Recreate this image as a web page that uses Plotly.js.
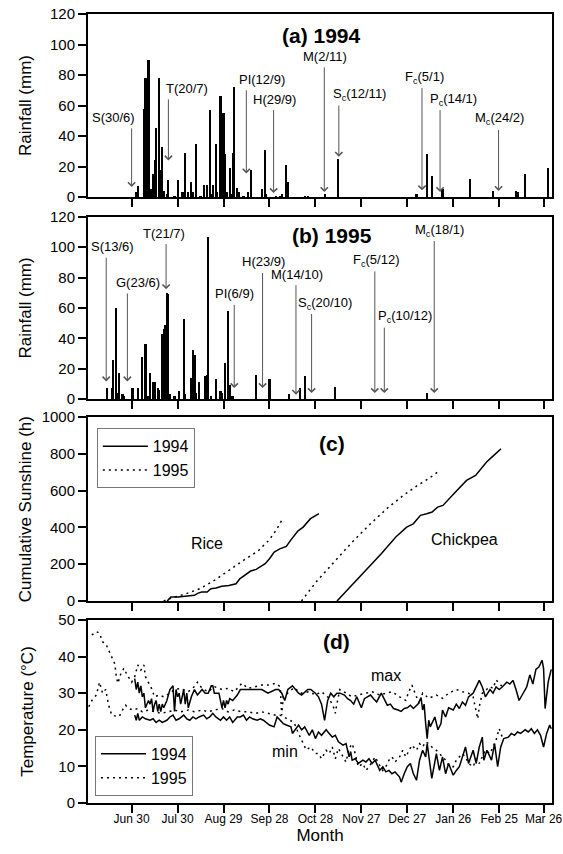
<!DOCTYPE html>
<html><head><meta charset="utf-8">
<script src="https://cdn.plot.ly/plotly-3.0.1.min.js"></script>
<style>html,body{margin:0;padding:0;background:#fff}#chart{width:563px;height:854px}</style>
</head><body><div id="chart"></div>
<script>
// x = days after 30 June
const tickDays = [0, 30, 60, 90, 120, 150, 180, 210, 240, 269];
const tickLabels = ['Jun 30', 'Jul 30', 'Aug 29', 'Sep 28', 'Oct 28', 'Nov 27', 'Dec 27', 'Jan 26', 'Feb 25', 'Mar 26'];

// (a) rainfall 1994
const rain94Day = [3,4,8,9,10,11,13,14,15,16,18,19,20,21,23,24,28,30,33,34,35,37,39,40,42,45,47,49,51,52,53,55,56,58,59,60,61,62,64,65,66,67,69,70,73,76,78,85,87,88,94,97,98,101,102,113,115,126,135,186,193,196,203,221,236,251,252,257,272];
const rain94Mm  = [3,7,58,78,45,90,5,15,24,45,78,18,33,4,2,11,1,11,3,3,29,3,10,3,35,1,8,8,57,2,8,35,3,66,3,55,28,3,19,2,29,72,6,3,1,3,18,5,31,2,1,1,2,21,10,1,1,2,25,2,28,14,5,12,4,4,3,15,19];

// (b) rainfall 1995
const rain95Day = [-16,-13,-12,-10,-9,-8,-6,-5,0,1,4,7,9,11,12,14,15,17,18,20,21,22,23,24,25,28,31,34,35,39,40,41,42,44,48,49,50,52,55,58,59,61,63,64,65,66,81,90,103,110,113,133,193];
const rain95Mm  = [7,7,26,60,4,17,3,2,7,7,7,28,36,2,17,11,11,7,6,43,46,49,70,69,3,2,5,53,3,14,32,29,4,11,15,16,107,2,13,5,4,24,58,9,2,2,16,13,3,7,15,8,4];

// event labels (a)
const ev94Text = ['S(30/6)','T(20/7)','PI(12/9)','H(29/9)','M(2/11)','S<sub>c</sub>(12/11)','F<sub>c</sub>(5/1)','P<sub>c</sub>(14/1)','M<sub>c</sub>(24/2)'];
const ev94TextDay = [-11.8, 36.3, 85.3, 93.1, 126.3, 148.8, 191.5, 210.4, 240];
const ev94TextVal = [52.4, 70.9, 77, 63.9, 92, 67, 78.6, 63.9, 51.3];
const ev94ArrowDay = [0, 24, 74.9, 92.7, 125.8, 135.3, 189.6, 201.4, 239.6];
const ev94Tail = [46, 65, 71, 58, 86, 61, 72.5, 58, 45];
const ev94Tip = [6.6, 24, 15.4, 2.6, 3.3, 26.4, 4.4, 3.3, 4];

// event labels (b)
const ev95Text = ['S(13/6)','G(23/6)','T(21/7)','PI(6/9)','H(23/9)','M(14/10)','S<sub>c</sub>(20/10)','F<sub>c</sub>(5/12)','P<sub>c</sub>(10/12)','M<sub>c</sub>(18/1)'];
const ev95TextDay = [-12.3, 4.3, 21.3, 67, 86, 108, 126.3, 159.5, 178.4, 201];
const ev95TextVal = [100.3, 76.7, 109, 69.2, 90.4, 82.3, 63, 91.5, 54.3, 111];
const ev95ArrowDay = [-16.6, -2.8, 22.5, 67, 85.5, 107.3, 117.5, 158.8, 165, 197.6];
const ev95Tail = [94, 70.5, 103, 63, 84, 76, 57, 85, 48, 105];
const ev95Tip = [11.6, 11.6, 72.3, 7.2, 7.2, 2.8, 3.9, 3.9, 3.9, 3.9];

// (c) cumulative sunshine
const rice94Day = [23.2,25.6,30.3,35,41,43.4,45.7,49.3,51.7,55.2,58.8,63.5,68.2,70.6,75.4,77.7,81.3,84.8,87.2,90,93.1,96.7,101,103.8,108.5,112,116.8,122.3];
const rice94Hrs = [0,22,22,27,31,43,49,49,67,71,80,85,94,121,149,163,172,190,203,230,266,284,297,330,380,402,448,475];
const rice95Day = [20.9,25.6,35,44.5,54,63.5,73,82.5,89.6,94.3,99];
const rice95Hrs = [0,15,38,67,112,167,221,272,330,384,453];
const chick94Day = [134.1,148.8,163,172.5,179.6,183.9,188.6,192.7,196.2,199.8,203.3,210.4,218.7,224.6,231.8,236.5,241.2];
const chick94Hrs = [0,130,257,348,402,420,466,475,484,511,520,583,656,683,756,792,828];
const chick95Day = [110.9,120.4,132.2,144.1,155.9,167.8,177.3,186.7,193.8,199.8];
const chick95Hrs = [0,103,212,321,420,511,574,629,665,701];

// (d) temperature
const tMax94Day = [2,3,4,5,6,7,8,9,11,12,13,14,15,16,17,18,19,20,21,23,25,27,28,29,30,31,32,34,35,36,37,39,41,43,46,48,50,52,53,54,57,59,60,61,62,63,64,66,69,71,73,76,81,85,89,94,96,98,100,102,105,107,109,111,115,117,120,122,124,126,128,130,132,134,136,139,141,143,145,147,150,152,154,156,158,160,163,165,167,169,171,174,176,178,180,182,184,187,189,190,191,192,193,194,195,198,200,202,203,205,207,210,212,214,216,218,220,223,225,227,229,231,234,236,238,240,242,245,247,249,251,253,255,258,260,262,264,266,268,269,270,272,274];
const tMax94 = [34,31,33,30,32,29,30,26,28,27,28.5,25,27,28,25,27,25,27,26,28,31,32,25,31,29,30,27,31,27,30,26,29,31,29.5,31,30,30,32,32,30,30,26,28,26,28,27,28.5,28,29.5,31,31,31,31,31,30,31,31,30,28,31,32,31,30,29.5,31,31,30,29,27,22.6,28,30,29,30,30,29.5,28.5,28,27,29,26,28.5,29,29.5,28.5,27.6,30,28.5,26.7,27,25.8,25.4,25,25.8,26,26.7,25.8,27,28.8,25.4,27,21.7,17.6,22.6,20.8,23.5,20,21.7,25.4,23.5,26,25.4,27,25.8,27.6,26.7,29,30,32,33.5,31.7,29,31,30,31.7,31,31.7,33,32.5,33.5,31,28,29.5,31.7,35,32.5,36.5,37.2,39,36.8,25.8,33,36.5];
const tMin94Day = [2,3,4,5,7,9,12,14,16,18,20,23,25,27,29,31,34,36,38,40,42,44,47,49,51,53,55,58,60,62,64,66,69,71,73,75,77,79,82,84,86,88,90,93,95,97,99,101,104,105,107,109,111,113,116,118,120,122,124,127,129,131,133,135,138,140,142,143,144,146,148,151,153,155,157,159,162,164,166,168,170,172,175,176,178,180,182,184,186,188,190,192,193,195,196,199,201,203,205,207,210,212,214,216,218,220,223,225,227,229,230,232,235,237,239,241,243,246,248,250,252,254,257,259,261,263,265,267,269,271,273,274];
const tMin94 = [24,22.6,24.5,22.6,23.5,23,22.6,23,22,22.6,22,22.6,23.5,24,22.6,23,24,23,22.6,23.5,23,23.5,24,23,23.5,24.5,23.5,22.6,23.5,22.6,23.5,22,23.5,23.5,24,22.6,23.5,23,22.6,23,22.6,22,21.3,20.8,23.5,22.6,21.7,21.3,20.8,19,20,21.3,20,20.8,18.5,20,17.6,19.4,18.5,20,19,18,18.5,16.7,15.8,16.2,12.6,14,11.7,12.1,10.8,11.7,11.2,12.1,10.8,11.7,8.9,9.9,8.5,8.9,8,8.5,7.1,5.7,8,9.9,10.8,8,6.2,11.7,14.4,12.6,16.2,9.9,6.7,13.5,8.9,12.6,8,10.8,7.6,8.9,9.9,12.6,15.3,10.8,14.4,10.8,15.3,18,11.7,14.4,11.7,16.2,9.9,15.3,17.6,18,19,18.5,19.4,19,20,19.4,20.3,19,20,18.5,15.3,19,21.3,20.3];
const tMax95Day = [-26,-23,-21,-19,-17,-14,-11,-10,-9,-7,-5,-3,0,2,4,6,8,9,11,13,15,18,21,25,28,32,37,41,43,46,50,54,59,63,67,72,76,81,85,89,94,97,98,99,102,106,109,111,116,120,124,129,132,133,134,136,140,144,148,153,157,162,166,170,175,179,181,183,186,188,190,194,199,201,203,207,212,216,220,223,225,226,227,229,234,236,238,240,242];
const tMax95 = [45.9,46.8,46.4,44,43.6,40.9,38,34.5,32.7,35.4,36.8,35,33,34.5,37.7,36.3,37.7,34.5,32.7,31.3,29,29.5,29,30,31,31.3,30.4,31.8,33,31.3,30.4,31.8,31,31.3,30.4,32.7,31.3,31.8,32.2,32.2,32.7,31.8,24,29,30,31.5,30.5,30,30.4,29.5,30.4,28.6,26,24.5,27,31,30,29,29.5,30,30.4,29.5,30,30.4,29,28,30.4,32.2,29,27,30,28.6,29.5,29,28.6,30,31,30.4,30,29,25.4,23,26.3,30,31.8,31.3,33.6,32.7,31.8];
const tMin95Day = [-28,-26,-23,-21,-19,-17,-15,-13,-10,-8,-6,-4,-2,1,4,7,11,15,19,24,28,32,37,41,46,50,54,59,63,67,72,76,81,85,89,94,97,102,106,109,112,114,117,120,122,124,127,129,131,133,135,138,140,142,144,146,148,151,153,155,157,159,162,164,166,168,170,172,175,177,179,181,183,186,188,190,192,194,196,199,201,203,205,207,210,212,214,216,218,220,223,225,227,229,231,234,236,238,240,242];
const tMin95 = [26.3,28,29.5,33,30,31,26.7,24,23.7,23.7,25.4,26.7,25.8,25.4,25.8,24.9,25.4,24.9,24.5,24.9,25.4,24.9,25.4,24.9,25.4,24.9,25.4,25.8,24.9,25.4,24.9,24.9,24.5,24.9,24.5,24,24,23,22,19,16,14.5,15.3,13.5,13.5,12.1,14.4,13.5,15.3,12.1,14.9,12.6,11.2,14.9,16.2,13.5,9.9,10.8,8.9,9.9,11.2,12.6,10.3,8.9,9.9,11.7,12.6,11.2,12.6,14.4,12.6,14.4,15.8,14.4,16.2,15.3,16.7,16.2,15.3,14.4,13.5,12.6,11.7,10.3,9.9,11.7,12.6,13.5,12.6,10.8,9.9,12.1,10.8,12.6,14.4,13.5,15.3,17.2,20.3,18];

const FONT = 'Liberation Sans, Arial, Helvetica, sans-serif';
const dotDash = '2px,4px';

const traces = [
  {type:'bar', x:rain94Day, y:rain94Mm, xaxis:'x', yaxis:'y', width:1.4, marker:{color:'#000', line:{width:0}}, showlegend:false},
  {type:'bar', x:rain95Day, y:rain95Mm, xaxis:'x2', yaxis:'y2', width:1.4, marker:{color:'#000', line:{width:0}}, showlegend:false},
  {type:'scatter', mode:'lines', x:rice94Day, y:rice94Hrs, xaxis:'x3', yaxis:'y3', name:'1994', legend:'legend', legendgroup:'s94', line:{color:'#000', width:1.5}},
  {type:'scatter', mode:'lines', x:rice95Day, y:rice95Hrs, xaxis:'x3', yaxis:'y3', name:'1995', legend:'legend', legendgroup:'s95', line:{color:'#000', width:1.5, dash:dotDash}},
  {type:'scatter', mode:'lines', x:chick94Day, y:chick94Hrs, xaxis:'x3', yaxis:'y3', name:'1994', legendgroup:'s94', showlegend:false, line:{color:'#000', width:1.5}},
  {type:'scatter', mode:'lines', x:chick95Day, y:chick95Hrs, xaxis:'x3', yaxis:'y3', name:'1995', legendgroup:'s95', showlegend:false, line:{color:'#000', width:1.5, dash:dotDash}},
  {type:'scatter', mode:'lines', x:tMax94Day, y:tMax94, xaxis:'x4', yaxis:'y4', name:'1994', legend:'legend2', legendgroup:'t94', line:{color:'#000', width:1.5}},
  {type:'scatter', mode:'lines', x:tMax95Day, y:tMax95, xaxis:'x4', yaxis:'y4', name:'1995', legend:'legend2', legendgroup:'t95', line:{color:'#000', width:1.5, dash:dotDash}},
  {type:'scatter', mode:'lines', x:tMin94Day, y:tMin94, xaxis:'x4', yaxis:'y4', name:'1994', legendgroup:'t94', showlegend:false, line:{color:'#000', width:1.5}},
  {type:'scatter', mode:'lines', x:tMin95Day, y:tMin95, xaxis:'x4', yaxis:'y4', name:'1995', legendgroup:'t95', showlegend:false, line:{color:'#000', width:1.5, dash:dotDash}}
];

function xAx(anchor, labels) {
  return {anchor:anchor, domain:[0,1], range:[-28.5,274.5], tickmode:'array', tickvals:tickDays, ticktext:tickLabels,
    ticks:'outside', ticklen:8, tickwidth:2, tickcolor:'#000', showline:true, linewidth:2, linecolor:'#000', mirror:true,
    showgrid:false, zeroline:false, showticklabels:labels, tickfont:{size:12, family:FONT, color:'#000'}};
}
function yAx(anchor, domain, range, dtick, title, standoff) {
  return {anchor:anchor, domain:domain, range:range, dtick:dtick, tick0:0,
    ticks:'outside', ticklen:8, tickwidth:2, tickcolor:'#000', showline:true, linewidth:2, linecolor:'#000', mirror:true,
    showgrid:false, zeroline:false, tickfont:{size:15, family:FONT, color:'#000'},
    title:{text:title, font:{size:17, family:FONT, color:'#000'}, standoff:standoff}};
}

const annotations = [];
function addEvents(xr, yr, texts, tDay, tVal, aDay, tail, tip) {
  for (let i = 0; i < texts.length; i++) {
    annotations.push({xref:xr, yref:yr, x:aDay[i], y:tip[i], ax:aDay[i], ay:tail[i], axref:xr, ayref:yr,
      text:'', showarrow:true, arrowhead:4, arrowsize:1.4, arrowwidth:1, arrowcolor:'#555', standoff:0});
    annotations.push({xref:xr, yref:yr, x:tDay[i], y:tVal[i], text:texts[i], showarrow:false,
      font:{size:13, family:FONT, color:'#000'}});
  }
}
addEvents('x','y', ev94Text, ev94TextDay, ev94TextVal, ev94ArrowDay, ev94Tail, ev94Tip);
addEvents('x2','y2', ev95Text, ev95TextDay, ev95TextVal, ev95ArrowDay, ev95Tail, ev95Tip);

function txt(xr, yr, x, y, t, size) {
  annotations.push({xref:xr, yref:yr, x:x, y:y, text:t, showarrow:false, font:{size:size, family:FONT, color:'#000'}});
}
txt('x','y', 124, 106, '<b>(a) 1994</b>', 21);
txt('x2','y2', 131, 108, '<b>(b) 1995</b>', 21);
txt('x3','y3', 131, 859, '<b>(c)</b>', 21);
txt('x4','y4', 134, 44, '<b>(d)</b>', 21);
txt('x3','y3', 49, 312, 'Rice', 16);
txt('x3','y3', 217.5, 333, 'Chickpea', 16);
txt('x4','y4', 166, 34.7, 'max', 16);
txt('x4','y4', 100, 14, 'min', 16);

const legendStyle = {xanchor:'left', yanchor:'top', bgcolor:'#fff', bordercolor:'#777', borderwidth:1,
  font:{size:16, family:FONT, color:'#000'}, itemwidth:45, tracegroupgap:0};

const xBottom = Object.assign(xAx('y4', true), {ticklabelstandoff:-4,
  title:{text:'Month', font:{size:17, family:FONT, color:'#000'}, standoff:0}});

const layout = {
  width:563, height:854, paper_bgcolor:'#fff', plot_bgcolor:'#fff',
  margin:{l:88, r:11, t:14, b:51},
  font:{family:FONT, color:'#000'},
  xaxis: xAx('y', false),
  xaxis2: xAx('y2', false),
  xaxis3: xAx('y3', false),
  xaxis4: xBottom,
  yaxis: yAx('x', [0.768, 1], [0, 120], 20, 'Rainfall (mm)', 14),
  yaxis2: yAx('x2', [0.512, 0.743], [0, 120], 20, 'Rainfall (mm)', 14),
  yaxis3: yAx('x3', [0.256, 0.489], [0, 1000], 200, 'Cumulative Sunshine (h)', 6),
  yaxis4: yAx('x4', [0, 0.232], [0, 50], 10, 'Temperature (°C)', 20),
  bargap:0,
  legend: Object.assign({x:0.019, y:0.475}, legendStyle),
  legend2: Object.assign({x:0.015, y:0.085}, legendStyle),
  annotations: annotations,
  showlegend:true
};

Plotly.newPlot('chart', traces, layout, {staticPlot:true, displayModeBar:false});
</script></body></html>
